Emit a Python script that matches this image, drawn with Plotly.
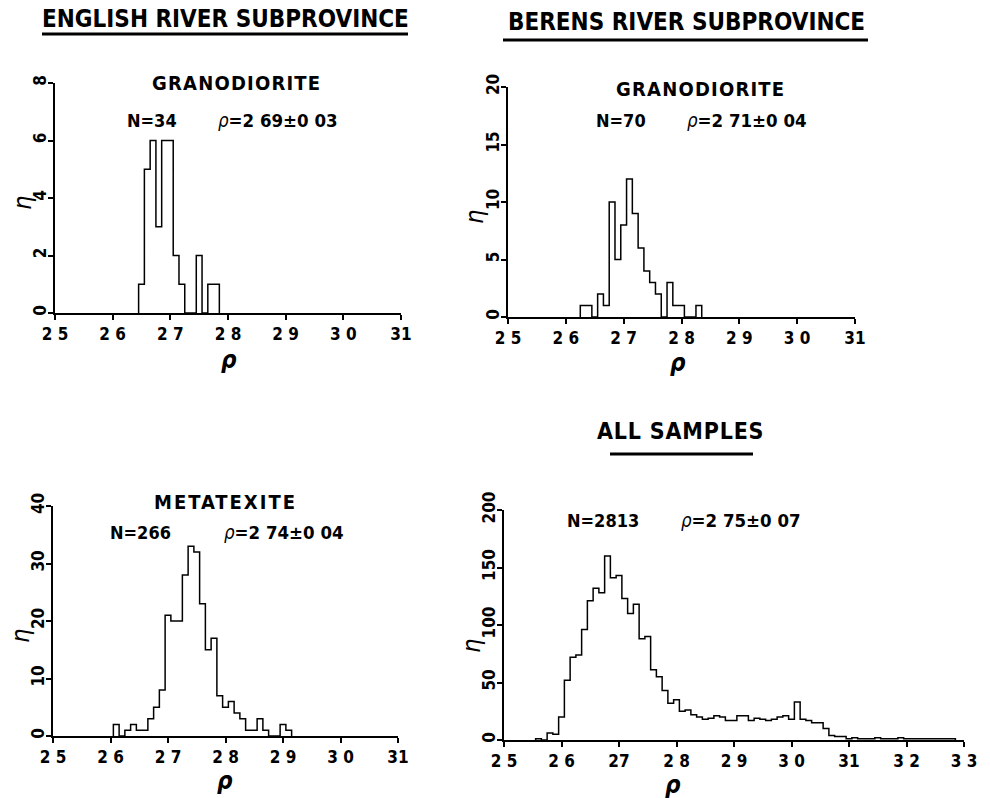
import plotly.graph_objects as go

W, H = 990, 798

# ---------------- data (density in g/cm3, counts per 0.01 bin) ----------------
bin_width = 0.01

eng_gran_first_bin = 2.65
eng_gran_counts = [1, 5, 6, 3, 6, 6, 2, 1, 0, 0, 2, 0, 1, 1]

ber_gran_first_bin = 2.63
ber_gran_counts = [1, 1, 0, 2, 1, 10, 5, 8, 12, 9, 6, 4, 3, 2, 0, 3, 1, 1, 0, 0, 1]

eng_meta_first_bin = 2.61
eng_meta_counts = [2, 0, 1, 2, 1, 1, 3, 5, 8, 21, 20, 20, 28, 33, 32, 23, 15, 17,
                   7, 5, 6, 4, 3, 1, 1, 3, 1, 0, 0, 2, 1]

all_first_bin = 2.56
all_counts = [1, 0, 6, 5, 20, 52, 72, 74, 96, 121, 132, 128, 160, 141, 143, 123,
              110, 118, 88, 90, 61, 55, 43, 32, 35, 25, 26, 22, 20, 18, 19, 21,
              20, 17, 17, 21, 21, 17, 19, 18, 17, 18, 20, 21, 18, 33, 18, 17, 15,
              15, 10, 4, 3, 3, 1, 2, 1, 1, 1, 2, 1, 1, 1, 2, 1, 1, 1, 1, 1, 1, 1,
              1, 1]

x_ticks_short = [2.5, 2.6, 2.7, 2.8, 2.9, 3.0, 3.1]
x_text_short = ["2 5", "2 6", "2 7", "2 8", "2 9", "3 0", "31"]
x_ticks_long = [2.5, 2.6, 2.7, 2.8, 2.9, 3.0, 3.1, 3.2, 3.3]
x_text_long = ["2 5", "2 6", "27", "2 8", "2 9", "3 0", "31", "3 2", "3 3"]

y_ticks_1 = [0, 2, 4, 6, 8]
y_ticks_2 = [0, 5, 10, 15, 20]
y_ticks_3 = [0, 10, 20, 30, 40]
y_ticks_4 = [0, 50, 100, 150, 200]

FONT = "DejaVu Sans Condensed, DejaVu Sans, sans-serif"


def step_xy(first_center, counts, w):
    edges = [first_center - w / 2 + i * w for i in range(len(counts) + 1)]
    xs = [edges[0]] + edges[:-1] + [edges[-1]]
    ys = [0] + list(counts) + [0]
    return xs, ys


def fx(p):
    return p / W


def fy(p):
    return 1 - p / H


fig = go.Figure()

panels = [
    (eng_gran_counts, eng_gran_first_bin, 1, (55, 401), (313, 83), (2.5, 3.1), y_ticks_1, x_ticks_short, x_text_short),
    (ber_gran_counts, ber_gran_first_bin, 2, (508, 855), (317, 87), (2.5, 3.1), y_ticks_2, x_ticks_short, x_text_short),
    (eng_meta_counts, eng_meta_first_bin, 3, (53, 398), (736, 506), (2.5, 3.1), y_ticks_3, x_ticks_short, x_text_short),
    (all_counts, all_first_bin, 4, (504, 964), (740, 510), (2.5, 3.3), y_ticks_4, x_ticks_long, x_text_long),
]

layout_axes = {}
for counts, first, i, (x0, x1), (y0, y1), xr, yt, xt, xtt in panels:
    xs, ys = step_xy(first, counts, bin_width)
    sfx = "" if i == 1 else str(i)
    fig.add_trace(go.Scatter(
        x=xs, y=ys, mode="lines", line=dict(color="black", width=1.5, shape="hv"),
        xaxis="x" + sfx, yaxis="y" + sfx, showlegend=False, hoverinfo="skip"))
    layout_axes["xaxis" + sfx] = dict(
        domain=[fx(x0), fx(x1)], range=list(xr), anchor="y" + sfx, automargin=False,
        tickvals=xt, ticktext=xtt, ticks="outside", ticklen=5, tickwidth=1.5,
        tickcolor="black", showline=True, linecolor="black", linewidth=1.5,
        showgrid=False, zeroline=False,
        tickfont=dict(family=FONT, size=17, color="black", weight="bold"))
    layout_axes["yaxis" + sfx] = dict(
        domain=[fy(y0), fy(y1)], range=[yt[0], yt[-1]], anchor="x" + sfx, automargin=False,
        tickvals=yt, ticks="outside", ticklen=5, tickwidth=1.5, tickangle=-90,
        ticklabelstandoff=-5,
        tickcolor="black", showline=True, linecolor="black", linewidth=1.5,
        showgrid=False, zeroline=False,
        tickfont=dict(family=FONT, size=17, color="black", weight="bold"))

fig.update_layout(**layout_axes)


def ann(text, x, y, size, bold=True, italic=False, angle=0, spacing=None):
    t = text
    if spacing is not None:
        t = '<span style="letter-spacing:%spx">%s</span>' % (spacing, t)
    fig.add_annotation(
        x=fx(x), y=fy(y), xref="paper", yref="paper", text=t, showarrow=False,
        xanchor="center", yanchor="middle", textangle=angle,
        font=dict(family=FONT, size=size, color="black",
                  weight="bold" if bold else "normal",
                  style="italic" if italic else "normal"))


RHO = "<span style='font-weight:normal'><i>ρ</i></span>"

# headings
ann("ENGLISH RIVER SUBPROVINCE", 225, 19, 24)
ann("BERENS RIVER SUBPROVINCE", 686, 22, 24)
ann("ALL SAMPLES", 680, 431, 23, spacing=0.8)

# panel captions
ann("GRANODIORITE", 236, 83, 20, spacing=1.2)
ann("N=34", 152, 120, 18)
ann(RHO + "=2 69±0 03", 278, 120, 18.5)

ann("GRANODIORITE", 700, 89, 20, spacing=1.2)
ann("N=70", 621, 121, 18)
ann(RHO + "=2 71±0 04", 747, 121, 18.5)

ann("METATEXITE", 225, 502, 20, spacing=2)
ann("N=266", 140, 532, 18)
ann(RHO + "=2 74±0 04", 284, 532, 18.5)

ann("N=2813", 603, 520, 18)
ann(RHO + "=2 75±0 07", 741, 520, 18.5)

# axis titles
for (x, y) in [(229, 360), (678, 363), (225, 781), (673, 785)]:
    ann("ρ", x, y, 24, bold=True, italic=True)
for (x, y) in [(22, 203), (475, 217), (20, 636), (471, 646)]:
    ann("η", x, y, 25, bold=False, italic=True, angle=-90)

# underlines
for (x0, x1, y) in [(42, 408, 34), (503, 868, 40), (610, 753, 454)]:
    fig.add_shape(type="line", xref="paper", yref="paper",
                  x0=fx(x0), x1=fx(x1), y0=fy(y), y1=fy(y),
                  line=dict(color="black", width=3))

fig.update_layout(width=W, height=H, margin=dict(l=0, r=0, t=0, b=0),
                  paper_bgcolor="white", plot_bgcolor="white",
                  font=dict(family=FONT, color="black"))

fig.write_html("out.html")
